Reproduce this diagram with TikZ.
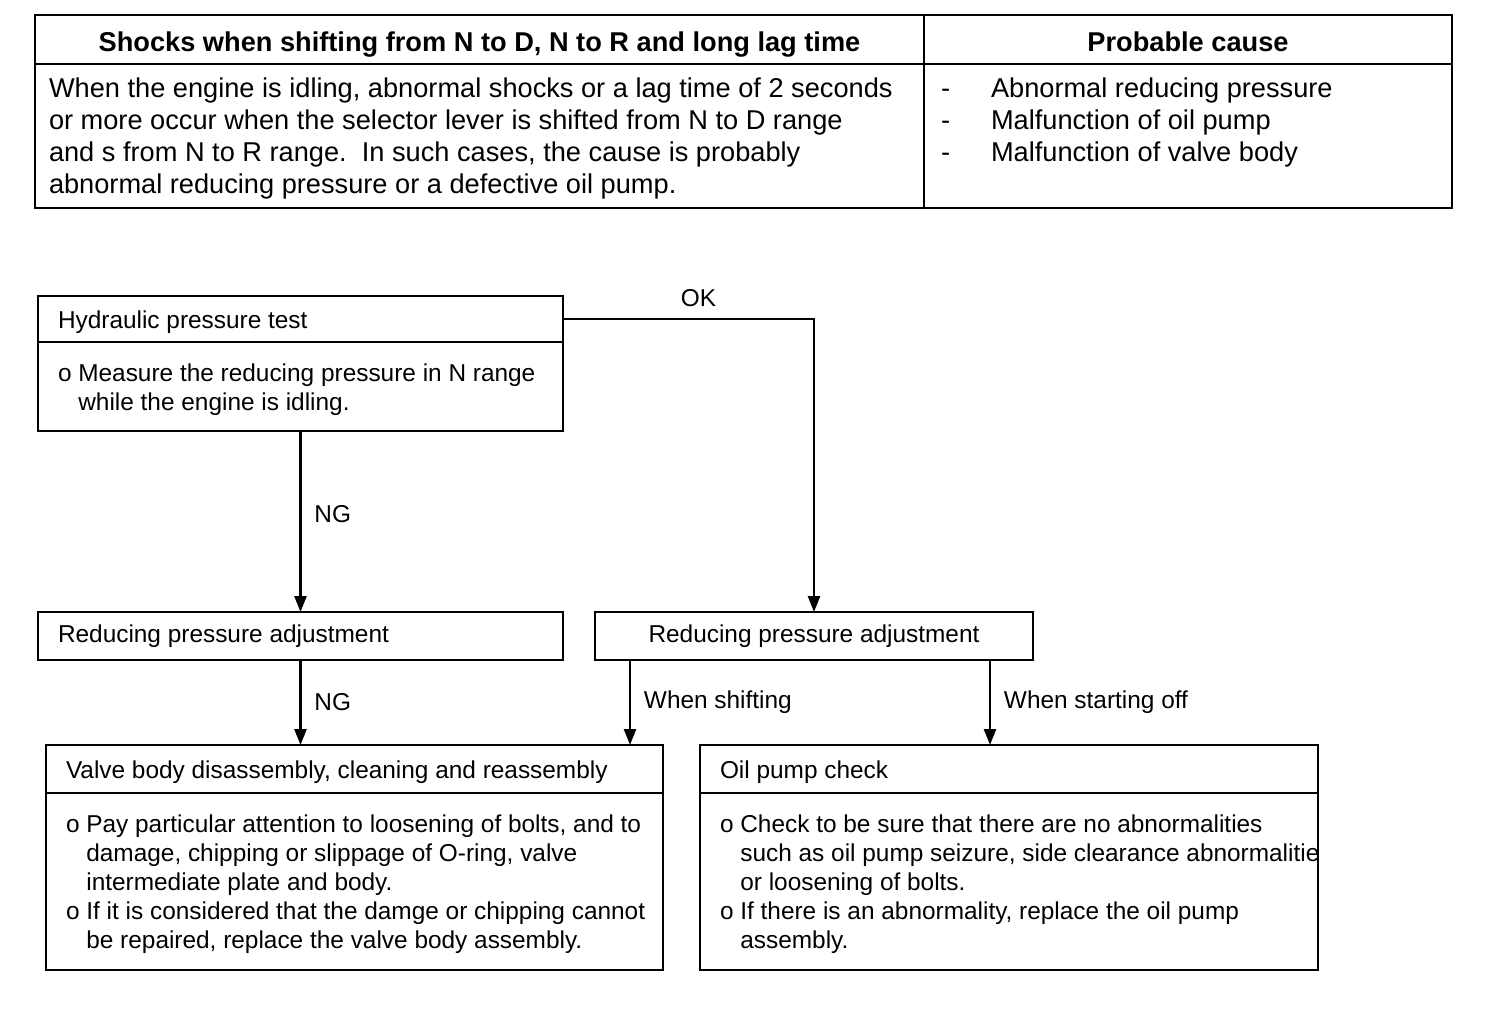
\documentclass[tikz,border=0pt]{standalone}
\usepackage{fontspec}
\setmainfont{Liberation Sans}
\usetikzlibrary{arrows.meta}
\newcommand{\boxlines}[2]{\raisebox{-1.7pt}[\height][\depth]{\makebox[#1][l]{\begin{tabular}{@{}l@{}}#2\end{tabular}}}}
\newcommand{\indt}{\hphantom{o\ }}
\begin{document}
\begin{tikzpicture}[x=0.5pt, y=-0.5pt,
		cell/.style = {draw, line width=1pt, anchor=north west, outer sep=0pt, inner xsep=7pt, inner ysep=0pt, font=\fontsize{13.6}{16}\selectfont},
		head/.style = {cell, minimum height=24.5pt, text height=14pt, text depth=1.5pt, font=\fontsize{13.6}{16}\selectfont\bfseries},
		box/.style = {draw, line width=1.3pt, anchor=north west, outer sep=0pt, inner xsep=10pt, inner ysep=0pt, font=\fontsize{12.2}{14.5}\selectfont},
		lbl/.style = {right=3pt, font=\fontsize{12.2}{14.5}\selectfont},
		arr/.style = {line width=1.3pt, -{Triangle[length=8pt, width=6pt]}}]
		\useasboundingbox (0,0) rectangle (1504,1016);
		\node[head, minimum width=444.5pt] (shock) at (35,15) {Shocks when shifting from N to D, N to R and long lag time};
		\node[head, minimum width=264pt] (cause) at (924,15) {Probable cause};
		\node[cell, minimum height=72pt] (shockbody) at (shock.south west) {\boxlines{430.5pt}{When the engine is idling, abnormal shocks or a lag time of 2 seconds\\
				or more occur when the selector lever is shifted from N to D range\\
				and s from N to R range.\ \ In such cases, the cause is probably\\
				abnormal reducing pressure or a defective oil pump.}};
		\node[cell, inner xsep=8.5pt, minimum height=72pt] (causebody) at (cause.south west) {\boxlines{247pt}{\makebox[25pt][l]{-}Abnormal reducing pressure\\
				\makebox[25pt][l]{-}Malfunction of oil pump\\
				\makebox[25pt][l]{-}Malfunction of valve body\\
				\mbox{}}};
		\node[box, minimum height=23pt] (hyd) at (38,296) {\boxlines{242.5pt}{Hydraulic pressure test}};
		\node[box, minimum height=44.5pt] (hydbody) at (hyd.south west) {\boxlines{242.5pt}{o Measure the reducing pressure in N range\\
				\indt while the engine is idling.}};
		\node[box, minimum height=24pt] (rpa1) at (38,612) {\makebox[242.5pt][l]{Reducing pressure adjustment}};
		\node[box, minimum width=219pt, minimum height=24pt] (rpa2) at (595,612) {Reducing pressure adjustment};
		\node[box, minimum height=24pt] (valve) at (46,745) {\boxlines{288.5pt}{Valve body disassembly, cleaning and reassembly}};
		\node[box, minimum height=88.5pt] (valvebody) at (valve.south west) {\boxlines{288.5pt}{o Pay particular attention to loosening of bolts, and to\\
				\indt damage, chipping or slippage of O-ring, valve\\
				\indt intermediate plate and body.\\
				o If it is considered that the damge or chipping cannot\\
				\indt be repaired, replace the valve body assembly.}};
		\node[box, minimum height=24pt] (oil) at (700,745) {\boxlines{289pt}{Oil pump check}};
		\begin{scope}
			\clip (690,780) rectangle (1319.5,980);
			\node[box, minimum height=88.5pt] (oilbody) at (oil.south west) {\boxlines{289pt}{o Check to be sure that there are no abnormalities\\
					\indt such as oil pump seizure, side clearance abnormalities\\
					\indt or loosening of bolts.\\
					o If there is an abnormality, replace the oil pump\\
					\indt assembly.}};
		\end{scope}
		\coordinate (shift) at ([xshift=17.5pt]rpa2.south west);
		\coordinate (start) at ([xshift=-21.5pt]rpa2.south east);
		\draw[arr] (hyd.east) -| node[pos=0.27, above=2pt, font=\fontsize{12.2}{14.5}\selectfont] {OK} (rpa2.north);
		\draw[arr] (hydbody.south) -- node[lbl, pos=0.46] {NG} (rpa1.north);
		\draw[arr] (rpa1.south) -- node[lbl] {NG} (rpa1.south |- valve.north);
		\draw[arr] (shift) -- node[lbl] {When shifting} (shift |- valve.north);
		\draw[arr] (start) -- node[lbl] {When starting off} (start |- oil.north);
	\end{tikzpicture}
\end{document}
